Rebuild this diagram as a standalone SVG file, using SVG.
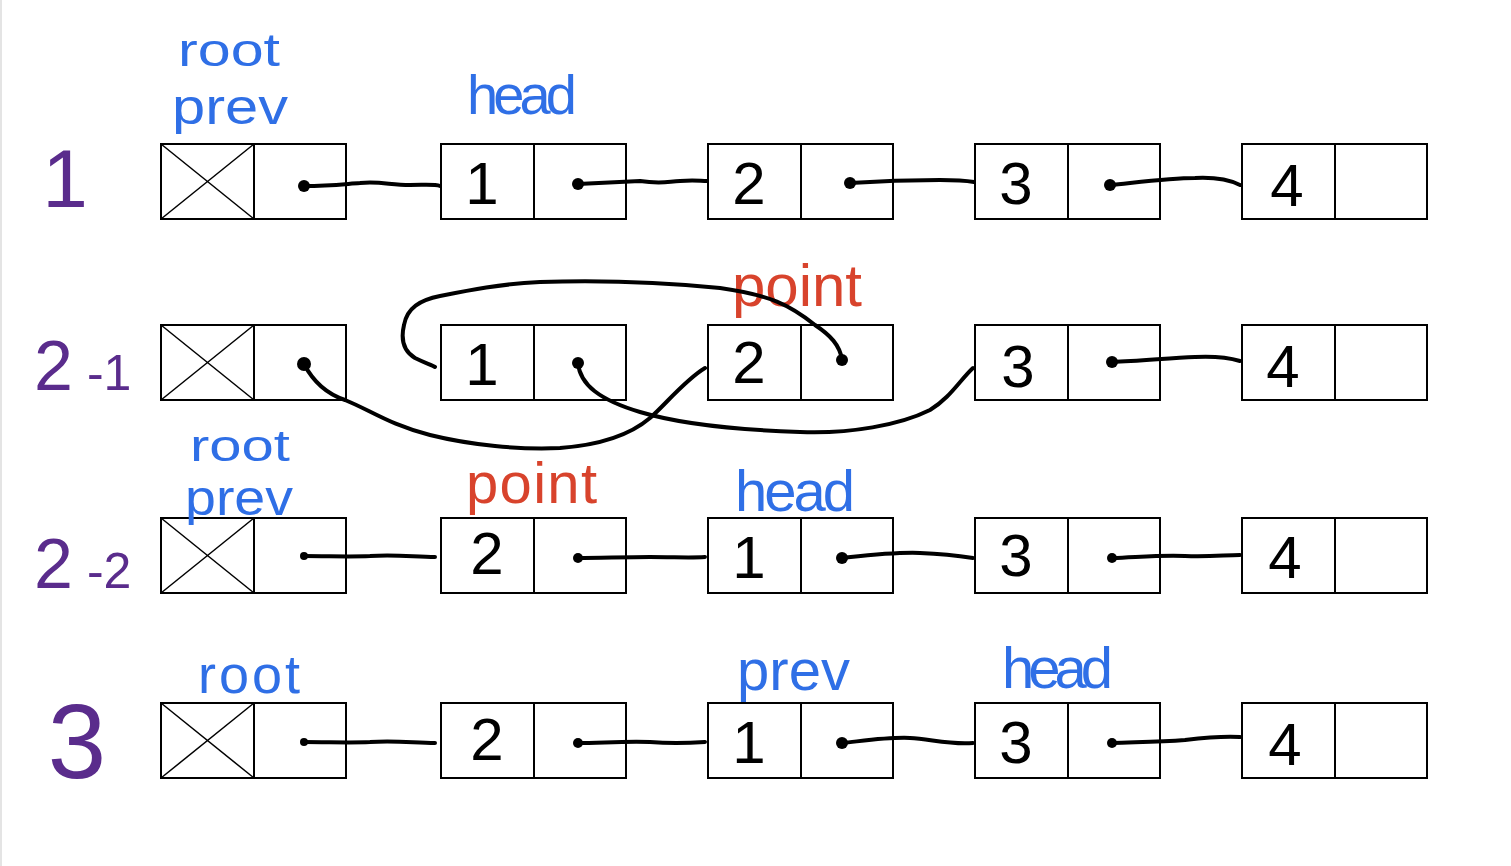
<svg xmlns="http://www.w3.org/2000/svg" width="1511" height="866" viewBox="0 0 1511 866">
<style>
.box{fill:#fff;stroke:#000;stroke-width:2}
.x{stroke:#000;stroke-width:1.5}
.num{font-family:"Liberation Sans",sans-serif;font-size:60px;fill:#000;text-anchor:middle}
.lbl{font-family:"Liberation Sans",sans-serif;fill:#2f6fe6}
.red{font-family:"Liberation Sans",sans-serif;fill:#d8432c}
.row{font-family:"Liberation Sans",sans-serif;fill:#5a2c8c}
.ln{fill:none;stroke:#000;stroke-width:4;stroke-linecap:round}
.dot{fill:#000}
</style>
<rect x="0" y="0" width="1511" height="866" fill="#fff"/>
<line x1="1" y1="0" x2="1" y2="866" stroke="#e4e4e4" stroke-width="2"/>
<defs>
<g id="nullnode">
<rect class="box" x="0" y="0" width="93" height="75"/>
<rect class="box" x="93" y="0" width="92" height="75"/>
<line class="x" x1="0" y1="0" x2="93" y2="75"/>
<line class="x" x1="93" y1="0" x2="0" y2="75"/>
</g>
<g id="cell">
<rect class="box" x="0" y="0" width="93" height="75"/>
<rect class="box" x="93" y="0" width="92" height="75"/>
</g>
</defs>

<!-- row labels -->
<g id="row-labels">
<text class="row" x="65" y="207" font-size="82" text-anchor="middle">1</text>
<text class="row" x="34" y="390" font-size="70">2<tspan dx="14" font-size="50">-1</tspan></text>
<text class="row" x="34" y="588" font-size="70">2<tspan dx="14" font-size="50">-2</tspan></text>
<text class="row" x="77" y="778" font-size="105" text-anchor="middle">3</text>
</g>

<!-- Row 1 -->
<g id="r1-root"><use href="#nullnode" x="161" y="144"/></g>
<g id="r1-n1"><use href="#cell" x="441" y="144"/><text class="num" x="482" y="204">1</text></g>
<g id="r1-n2"><use href="#cell" x="708" y="144"/><text class="num" x="749" y="204">2</text></g>
<g id="r1-n3"><use href="#cell" x="975" y="144"/><text class="num" x="1016" y="204">3</text></g>
<g id="r1-n4"><use href="#cell" x="1242" y="144"/><text class="num" x="1287" y="206">4</text></g>
<g id="r1-labels">
<text class="lbl" x="178" y="66" font-size="46" textLength="102" lengthAdjust="spacingAndGlyphs">root</text>
<text class="lbl" x="172" y="124" font-size="50" textLength="116" lengthAdjust="spacingAndGlyphs">prev</text>
<text class="lbl" x="467" y="114" font-size="56" textLength="110">head</text>
</g>

<!-- Row 2-1 -->
<g id="r2-root"><use href="#nullnode" x="161" y="325"/></g>
<g id="r2-n1"><use href="#cell" x="441" y="325"/><text class="num" x="482" y="385">1</text></g>
<g id="r2-n2"><use href="#cell" x="708" y="325"/><text class="num" x="749" y="383">2</text></g>
<g id="r2-n3"><use href="#cell" x="975" y="325"/><text class="num" x="1018" y="387">3</text></g>
<g id="r2-n4"><use href="#cell" x="1242" y="325"/><text class="num" x="1283" y="387">4</text></g>
<g id="r2-labels">
<text class="red" x="732" y="306" font-size="60" textLength="130">point</text>
</g>

<!-- Row 2-2 -->
<g id="r3-root"><use href="#nullnode" x="161" y="518"/></g>
<g id="r3-n2"><use href="#cell" x="441" y="518"/><text class="num" x="487" y="574">2</text></g>
<g id="r3-n1"><use href="#cell" x="708" y="518"/><text class="num" x="749" y="578">1</text></g>
<g id="r3-n3"><use href="#cell" x="975" y="518"/><text class="num" x="1016" y="576">3</text></g>
<g id="r3-n4"><use href="#cell" x="1242" y="518"/><text class="num" x="1285" y="578">4</text></g>
<g id="r3-labels">
<text class="lbl" x="190" y="461" font-size="44" textLength="100" lengthAdjust="spacingAndGlyphs">root</text>
<text class="lbl" x="185" y="515" font-size="50" textLength="108" lengthAdjust="spacingAndGlyphs">prev</text>
<text class="red" x="466" y="503" font-size="58" textLength="131">point</text>
<text class="lbl" x="735" y="511" font-size="58" textLength="120">head</text>
</g>

<!-- Row 3 -->
<g id="r4-root"><use href="#nullnode" x="161" y="703"/></g>
<g id="r4-n2"><use href="#cell" x="441" y="703"/><text class="num" x="487" y="760">2</text></g>
<g id="r4-n1"><use href="#cell" x="708" y="703"/><text class="num" x="749" y="763">1</text></g>
<g id="r4-n3"><use href="#cell" x="975" y="703"/><text class="num" x="1016" y="763">3</text></g>
<g id="r4-n4"><use href="#cell" x="1242" y="703"/><text class="num" x="1285" y="765">4</text></g>
<g id="r4-labels">
<text class="lbl" x="198" y="693" font-size="54" textLength="102">root</text>
<text class="lbl" x="737" y="690" font-size="58" textLength="113">prev</text>
<text class="lbl" x="1002" y="688" font-size="58" textLength="111">head</text>
</g>

<!-- connectors -->
<g id="connectors">
<!-- row 1 -->
<path class="ln" d="M304,186 C330,186 345,184 360,183 C380,181 390,185 410,185 C425,185 435,184 440,186"/>
<path class="ln" d="M578,184 C600,183 620,182 640,181 C660,184 665,182 680,181 C695,180 700,181 707,181"/>
<path class="ln" d="M850,183 C880,181 910,180 940,180 C960,180 968,181 974,182"/>
<path class="ln" d="M1110,185 C1140,182 1170,178 1195,178 C1215,177 1230,180 1240,185"/>
<circle class="dot" cx="304" cy="186" r="6"/>
<circle class="dot" cx="578" cy="184" r="6"/>
<circle class="dot" cx="850" cy="183" r="6"/>
<circle class="dot" cx="1110" cy="185" r="6"/>
<!-- row 2-1 -->
<path class="ln" d="M304,364 C315,385 330,395 345,400 C370,410 390,425 430,435 C470,445 520,450 560,448 C600,445 630,435 650,418 C665,405 685,380 705,368"/>
<path class="ln" d="M578,363 C580,385 600,400 640,412 C680,424 740,430 800,432 C850,434 900,425 930,410 C950,398 960,380 973,368"/>
<path class="ln" d="M842,360 C840,345 830,335 815,325 C790,305 770,295 720,288 C660,282 600,280 540,282 C500,284 470,290 440,296 C420,300 407,308 404,325 C400,342 405,352 415,358 C425,363 432,365 435,367"/>
<path class="ln" d="M1112,362 C1140,361 1170,358 1195,357 C1215,356 1230,358 1240,361"/>
<circle class="dot" cx="304" cy="364" r="7"/>
<circle class="dot" cx="578" cy="363" r="6"/>
<circle class="dot" cx="842" cy="360" r="6"/>
<circle class="dot" cx="1112" cy="362" r="6"/>
<!-- row 2-2 -->
<path class="ln" d="M304,556 C330,556 350,557 370,556 C395,554 415,557 435,557"/>
<path class="ln" d="M578,558 C600,558 625,557 650,557 C675,557 690,558 705,557"/>
<path class="ln" d="M842,558 C870,555 895,552 920,553 C945,554 960,556 973,558"/>
<path class="ln" d="M1112,558 C1140,557 1160,555 1185,556 C1210,557 1225,555 1240,555"/>
<circle class="dot" cx="304" cy="556" r="4"/>
<circle class="dot" cx="578" cy="558" r="5"/>
<circle class="dot" cx="842" cy="558" r="6"/>
<circle class="dot" cx="1112" cy="558" r="5"/>
<!-- row 3 -->
<path class="ln" d="M304,742 C330,742 350,743 370,742 C395,740 415,743 435,743"/>
<path class="ln" d="M578,743 C600,743 625,741 650,742 C675,744 690,743 705,742"/>
<path class="ln" d="M842,743 C870,740 890,737 910,738 C930,739 950,745 973,743"/>
<path class="ln" d="M1112,743 C1140,742 1160,742 1185,740 C1210,737 1225,736 1240,737"/>
<circle class="dot" cx="304" cy="742" r="4"/>
<circle class="dot" cx="578" cy="743" r="5"/>
<circle class="dot" cx="842" cy="743" r="6"/>
<circle class="dot" cx="1112" cy="743" r="5"/>
</g>
</svg>
